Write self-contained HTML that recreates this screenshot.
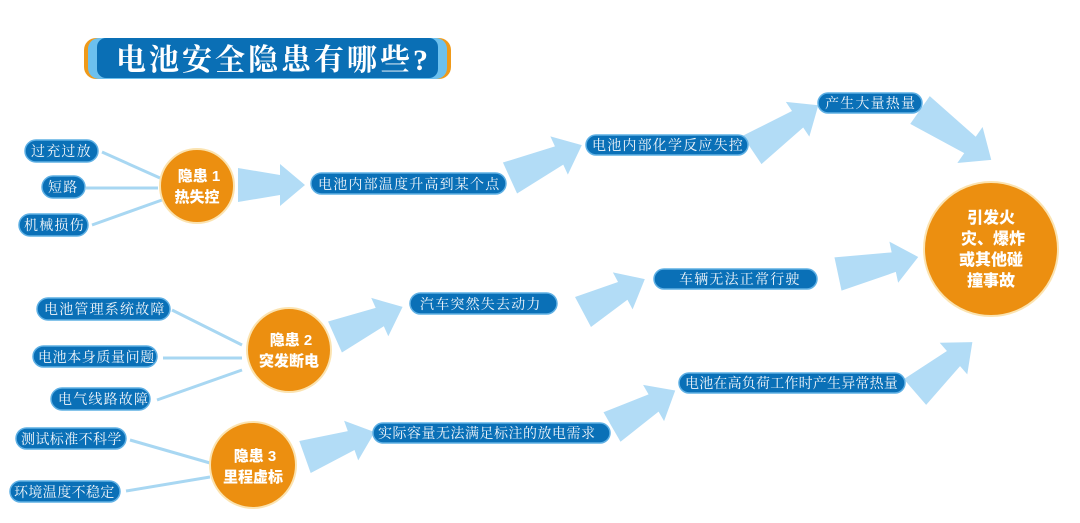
<!DOCTYPE html>
<html><head><meta charset="utf-8"><style>
html,body{margin:0;padding:0;background:#fff;}
svg{display:block;}
.p{fill:#0a70b7;stroke:#5fb0e4;stroke-width:1.5;}
.pt{font-family:"Liberation Serif","Noto Serif CJK SC",serif;font-size:14px;fill:#f2f6fa;letter-spacing:1.2px;}
.c{fill:#ec8f10;stroke:#fbe3b0;stroke-width:2;}
.ct{font-family:"Liberation Sans","Noto Sans CJK SC",sans-serif;font-weight:900;font-size:15px;fill:#fff;text-anchor:middle;}
.l{stroke:#a8d7f2;stroke-width:3;}
.a{fill:#b2dcf6;}
</style></head><body>
<svg width="1080" height="523" viewBox="0 0 1080 523" xmlns="http://www.w3.org/2000/svg">
<rect width="1080" height="523" fill="#fff"/>
<rect x="84" y="38" width="367" height="41" rx="12" fill="#ef9a1a"/>
<rect x="88" y="38" width="359" height="41" rx="11" fill="#6cc0ee"/>
<rect x="97" y="38" width="341" height="40" rx="9" fill="#0a6fb5"/>
<text x="116" y="70" font-family="Liberation Serif,'Noto Serif CJK SC',serif" font-weight="bold" font-size="30" fill="#fff" letter-spacing="3">电池安全隐患有哪些?</text>

<line class="l" x1="102" y1="152" x2="160" y2="178"/>
<line class="l" x1="86" y1="188" x2="158" y2="188"/>
<line class="l" x1="92" y1="225" x2="162" y2="200"/>
<line class="l" x1="172" y1="310" x2="242" y2="345"/>
<line class="l" x1="163" y1="358" x2="242" y2="358"/>
<line class="l" x1="157" y1="400" x2="242" y2="370"/>
<line class="l" x1="130" y1="440" x2="210" y2="463"/>
<line class="l" x1="126" y1="491" x2="210" y2="477"/>

<g class="a">
<polygon transform="translate(238,185) rotate(0)" points="0,-17 42,-10 42,-21 67,0 42,21 42,10 0,17"/>
<polygon transform="translate(510,178) rotate(-24.6)" points="0,-17 54,-10 54,-21 79,0 54,21 54,10 0,17"/>
<polygon transform="translate(752,150) rotate(-34)" points="0,-17 55,-10 55,-21 80,0 55,21 55,10 0,17"/>
<polygon transform="translate(920,110) rotate(35)" points="0,-17 61,-10 61,-22 87,0 61,22 61,10 0,17"/>
<polygon transform="translate(335,337) rotate(-24)" points="0,-17 49,-10 49,-21 74,0 49,21 49,10 0,17"/>
<polygon transform="translate(583,312) rotate(-28)" points="0,-17 45,-10 45,-21 70,0 45,21 45,10 0,17"/>
<polygon transform="translate(838,274) rotate(-12)" points="0,-17 57,-10 57,-21 82,0 57,21 57,10 0,17"/>
<polygon transform="translate(305,457) rotate(-19.6)" points="0,-17 49,-10 49,-21 74,0 49,21 49,10 0,17"/>
<polygon transform="translate(612,427) rotate(-30)" points="0,-17 48,-10 48,-21 73,0 48,21 48,10 0,17"/>
<polygon transform="translate(915,392) rotate(-41)" points="0,-17 51,-10 51,-21 76,0 51,21 51,10 0,17"/>
</g>

<rect class="p" x="25" y="140" width="73" height="22" rx="11"/><text class="pt" x="31" y="156">过充过放</text>
<rect class="p" x="42" y="176" width="43" height="22" rx="11"/><text class="pt" x="48" y="192">短路</text>
<rect class="p" x="19" y="214" width="69" height="22" rx="11"/><text class="pt" x="24" y="230">机械损伤</text>
<rect class="p" x="311" y="173" width="195" height="21" rx="10.5"/><text class="pt" x="318" y="189">电池内部温度升高到某个点</text>
<rect class="p" x="586" y="135" width="162" height="20" rx="10"/><text class="pt" x="592" y="150">电池内部化学反应失控</text>
<rect class="p" x="818" y="93" width="104" height="20" rx="10"/><text class="pt" x="825" y="108">产生大量热量</text>
<rect class="p" x="37" y="298" width="133" height="22" rx="11"/><text class="pt" x="44" y="314">电池管理系统故障</text>
<rect class="p" x="33" y="346" width="124" height="21" rx="10.5"/><text class="pt" x="38" y="362" style="letter-spacing:0.6px">电池本身质量问题</text>
<rect class="p" x="51" y="388" width="99" height="22" rx="11"/><text class="pt" x="58" y="404">电气线路故障</text>
<rect class="p" x="16" y="428" width="110" height="21" rx="10.5"/><text class="pt" x="21" y="444" style="letter-spacing:0.4px">测试标准不科学</text>
<rect class="p" x="10" y="481" width="110" height="21" rx="10.5"/><text class="pt" x="14" y="497" style="letter-spacing:0.4px">环境温度不稳定</text>
<rect class="p" x="410" y="293" width="147" height="21" rx="10.5"/><text class="pt" x="420" y="309">汽车突然失去动力</text>
<rect class="p" x="654" y="269" width="163" height="20" rx="10"/><text class="pt" x="679" y="284">车辆无法正常行驶</text>
<rect class="p" x="373" y="423" width="237" height="20" rx="10"/><text class="pt" x="378" y="438" style="letter-spacing:0.5px">实际容量无法满足标注的放电需求</text>
<rect class="p" x="679" y="373" width="226" height="20" rx="10"/><text class="pt" x="685" y="388" style="letter-spacing:0.2px">电池在高负荷工作时产生异常热量</text>

<circle class="c" cx="197" cy="186" r="37"/>
<text class="ct" x="199" y="181">隐患 1</text><text class="ct" x="197" y="202">热失控</text>
<circle class="c" cx="289" cy="350" r="42"/>
<text class="ct" x="291" y="345">隐患 2</text><text class="ct" x="289" y="366">突发断电</text>
<circle class="c" cx="253" cy="465" r="43"/>
<text class="ct" x="255" y="461">隐患 3</text><text class="ct" x="253" y="482">里程虚标</text>
<circle class="c" cx="991" cy="249" r="67"/>
<text class="ct" x="991" y="223" style="font-size:16px">引发火</text>
<text class="ct" x="993" y="244" style="font-size:16px">灾、爆炸</text>
<text class="ct" x="991" y="265" style="font-size:16px">或其他碰</text>
<text class="ct" x="991" y="286" style="font-size:16px">撞事故</text>
</svg>
</body></html>
